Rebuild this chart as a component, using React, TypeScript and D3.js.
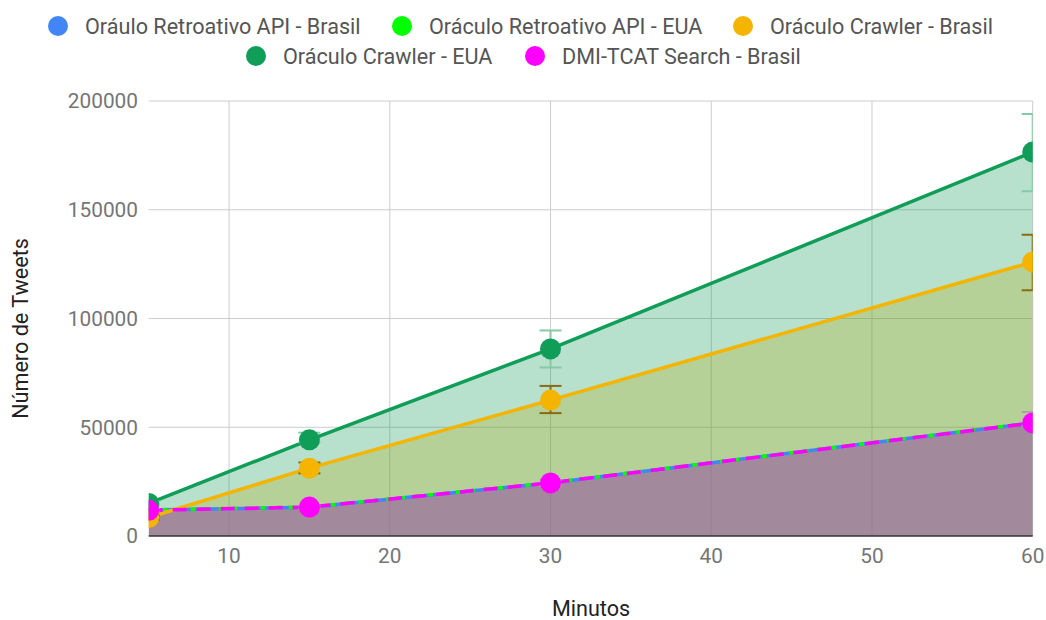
import React from "react";
import * as d3 from "d3";

const minutes = [5, 15, 30, 60];
const seriesNames = [
  "Oráulo Retroativo API - Brasil",
  "Oráculo Retroativo API - EUA",
  "Oráculo Crawler - Brasil",
  "Oráculo Crawler - EUA",
  "DMI-TCAT Search - Brasil",
];
const seriesColors = ["#4285f4", "#00ff00", "#f4b400", "#0f9d58", "#ff00ff"];
const apiBrasil = [12000, 13200, 24400, 52000];
const apiEUA = [12000, 13300, 24500, 52100];
const crawlerBrasil = [8500, 31200, 62500, 126000];
const crawlerEUA = [15000, 44200, 86000, 176500];
const dmiBrasil = [11800, 13300, 24400, 52000];
const crawlerBrasilLow = [7500, 28800, 56500, 113000];
const crawlerBrasilHigh = [9500, 33800, 69000, 138500];
const crawlerEUALow = [14000, 43000, 77500, 158500];
const crawlerEUAHigh = [16000, 47500, 94500, 194000];
const dmiLow = [11000, 12500, 23000, 50500];
const dmiHigh = [12600, 14100, 25800, 57000];
const xTicks = [10, 20, 30, 40, 50, 60];
const yTicks = [0, 50000, 100000, 150000, 200000];

const W = 1046;
const H = 620;
const left = 148.7;
const right = 1032.7;
const top = 101;
const bottom = 536;

export default function App() {
  const x = d3.scaleLinear().domain([5, 60]).range([left, right]);
  const y = d3.scaleLinear().domain([0, 200000]).range([bottom, top]);
  const values = [apiBrasil, apiEUA, crawlerBrasil, crawlerEUA, dmiBrasil];
  const area = d3
    .area<number>()
    .x((_, i) => x(minutes[i]))
    .y0(y(0))
    .y1((d) => y(d));
  const line = d3
    .line<number>()
    .x((_, i) => x(minutes[i]))
    .y((d) => y(d));
  const dashes = [undefined, "5 9", undefined, undefined, "14 10"];
  const errs = [
    { lo: crawlerBrasilLow, hi: crawlerBrasilHigh, color: "#8a6a12" },
    { lo: crawlerEUALow, hi: crawlerEUAHigh, color: "#86c9a6" },
    { lo: dmiLow, hi: dmiHigh, color: "#b59bb0" },
  ];
  const font = "Roboto, 'Noto Sans', sans-serif";
  const legendRows = [
    [
      { i: 0, cx: 58 },
      { i: 1, cx: 402 },
      { i: 2, cx: 743 },
    ],
    [
      { i: 3, cx: 256 },
      { i: 4, cx: 535 },
    ],
  ];
  return (
    <svg width={W} height={H} style={{ position: "absolute", left: 0, top: 0 }} fontFamily={font}>
      <rect width={W} height={H} fill="#fff" />
      <defs>
        <clipPath id="plot">
          <rect x={left} y={top - 2} width={right - left} height={bottom - top + 2} />
        </clipPath>
      </defs>
      {legendRows.map((row, r) =>
        row.map(({ i, cx }) => (
          <g key={i}>
            <circle cx={cx} cy={26 + r * 30} r={10} fill={seriesColors[i]} />
            <text x={cx + 27} y={26 + r * 30} dy="0.35em" fontSize={21.6} fill="#555">
              {seriesNames[i]}
            </text>
          </g>
        ))
      )}
      {yTicks.map((t) => (
        <g key={t}>
          {t > 0 && <line x1={left} x2={right} y1={y(t)} y2={y(t)} stroke="#ccc" strokeWidth={1} />}
          <text x={138} y={y(t)} dy="0.35em" textAnchor="end" fontSize={20.8} fill="#757575">
            {t}
          </text>
        </g>
      ))}
      {xTicks.map((t) => (
        <g key={t}>
          <line x1={x(t)} x2={x(t)} y1={top} y2={bottom} stroke="#ccc" strokeWidth={1} />
          <text x={x(t)} y={556} dy="0.35em" textAnchor="middle" fontSize={20.8} fill="#757575">
            {t}
          </text>
        </g>
      ))}
      <g clipPath="url(#plot)">
        {values.map((v, i) => (
          <path key={"a" + i} d={area(v) || ""} fill={seriesColors[i]} fillOpacity={0.3} />
        ))}
        {values.map((v, i) => (
          <path
            key={"l" + i}
            d={line(v) || ""}
            fill="none"
            stroke={seriesColors[i]}
            strokeWidth={3.5}
            strokeDasharray={dashes[i]}
          />
        ))}
        {errs.map((e, k) =>
          minutes.map((m, j) => (
            <g key={"e" + k + "-" + j} stroke={e.color} strokeWidth={2}>
              <line x1={x(m)} x2={x(m)} y1={y(e.lo[j])} y2={y(e.hi[j])} />
              <line x1={x(m) - 11} x2={x(m) + 11} y1={y(e.lo[j])} y2={y(e.lo[j])} />
              <line x1={x(m) - 11} x2={x(m) + 11} y1={y(e.hi[j])} y2={y(e.hi[j])} />
            </g>
          ))
        )}
        {[2, 3, 4].map((i) =>
          values[i].map((v, j) => (
            <circle key={"p" + i + "-" + j} cx={x(minutes[j])} cy={y(v)} r={10.5} fill={seriesColors[i]} />
          ))
        )}
      </g>
      <line x1={left} x2={right} y1={bottom} y2={bottom} stroke="#333" strokeWidth={1.5} />
      <text x={591} y={616} textAnchor="middle" fontSize={21.6} fill="#222">
        Minutos
      </text>
      <text
        transform={`translate(28, ${(top + bottom) / 2 + 10}) rotate(-90)`}
        textAnchor="middle"
        fontSize={21.6}
        fill="#222"
      >
        Número de Tweets
      </text>
    </svg>
  );
}
